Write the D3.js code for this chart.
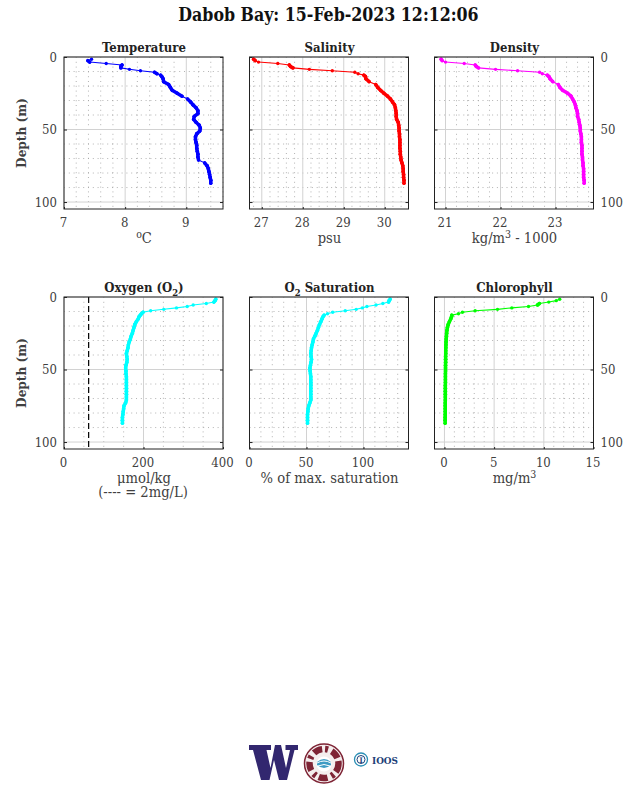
<!DOCTYPE html>
<html>
<head>
<meta charset="utf-8">
<script src="https://cdn.jsdelivr.net/npm/d3@7"></script>
<style>
html, body { margin: 0; padding: 0; background: white; }
svg { display: block; }
text { font-family: "DejaVu Serif Condensed", "DejaVu Serif", serif; font-stretch: condensed; }
</style>
</head>
<body>
<div id="chart"></div>
<script>
/* values, one entry per depth bin */
var depths = [1.5,2.5,3.5,4.5,5.5,6.5,7.5,8.5,9.5,10.5,11.5,12.5,13.5,15,17,19,21,23,25,27,29,31,33,35,37,39,41,43,45,47,49,51,53,55,57,59,61,63,65,67,69,71,73,75,77,79,81,83,85,87];
var temperature = [7.45,7.39,7.42,7.69,7.95,7.93,7.93,8.07,8.25,8.48,8.52,8.58,8.60,8.62,8.63,8.71,8.74,8.77,8.85,8.93,9.02,9.07,9.11,9.16,9.19,9.19,9.13,9.12,9.16,9.21,9.23,9.22,9.17,9.15,9.15,9.16,9.17,9.17,9.18,9.19,9.19,9.20,9.30,9.34,9.36,9.37,9.38,9.39,9.40,9.40];
var salinity = [26.80,26.84,26.92,27.39,27.67,27.70,27.76,28.16,28.72,29.27,29.35,29.49,29.53,29.54,29.62,29.78,29.83,29.90,29.98,30.07,30.14,30.19,30.24,30.26,30.27,30.28,30.28,30.29,30.33,30.34,30.35,30.35,30.36,30.36,30.37,30.37,30.37,30.37,30.38,30.38,30.39,30.40,30.42,30.44,30.45,30.45,30.46,30.46,30.47,30.47];
var density = [20.92,20.94,21.00,21.34,21.54,21.56,21.60,21.91,22.31,22.71,22.76,22.85,22.88,22.90,22.95,23.05,23.08,23.13,23.22,23.28,23.31,23.34,23.36,23.37,23.39,23.40,23.40,23.42,23.43,23.44,23.45,23.45,23.46,23.47,23.47,23.47,23.48,23.48,23.48,23.48,23.49,23.49,23.50,23.50,23.51,23.51,23.51,23.51,23.52,23.52];
var oxygen = [382,380,377,358,325,310,283,251,218,199,195,192,189,187,182,178,176,174,172,169,167,164,162,161,159,157,158,159,158,156,155,156,156,157,157,157,157,157,157,157,157,157,155,151,150,149,148,147,147,147];
var saturation = [123.4,122.5,122,117,111,103,99,93.6,84,73,68.4,65.5,64.6,63.7,62.6,61.4,60.5,59.6,58.5,57.3,56.1,55.6,55,54.4,54.1,53.8,54,54.4,54,53.5,53,53.2,53.5,53.8,53.8,53.8,53.8,53.8,53.8,53.8,53.8,53.8,52.9,52,51.5,51.2,50.9,50.9,50.9,50.9];
var chlorophyll = [11.6,11.25,10.5,9.56,9.36,8.46,6.78,5.34,3.09,1.81,1.41,0.74,0.72,0.64,0.5,0.38,0.3,0.25,0.22,0.2,0.18,0.16,0.15,0.14,0.13,0.13,0.12,0.12,0.12,0.11,0.11,0.11,0.1,0.1,0.1,0.1,0.09,0.09,0.09,0.09,0.09,0.09,0.08,0.08,0.08,0.08,0.08,0.07,0.07,0.07];

var depthTicks = [0, 50, 100];
var depthMinor = [10, 20, 30, 40, 60, 70, 80, 90];
var oxygenLimit = 62; // the 2mg/L dashed line

var width = 638, height = 788;
var inkGrey = "#404040";
var serif = '"DejaVu Serif Condensed", "DejaVu Serif", serif';

var svg = d3.select("#chart").append("svg")
    .attr("width", width)
    .attr("height", height);

svg.append("text")
    .attr("x", 328.5).attr("y", 21)
    .attr("text-anchor", "middle")
    .attr("font-size", 17.6)
    .attr("font-weight", "bold")
    .attr("fill", "#111")
    .text("Dabob Bay: 15-Feb-2023 12:12:06");

/* parts = [text, "sub"|"sup"|undefined, dy] so labels can carry O2 and m3 */
function addRich(sel, parts) {
    parts.forEach(function (p) {
        var t = sel.append("tspan").text(p[0]);
        if (p[1] == "sub") t.attr("dy", 4).attr("font-size", "72%");
        if (p[1] == "sup") t.attr("dy", -5).attr("font-size", "72%");
        if (p[2]) t.attr("dy", p[2]);
    });
}

function range(a, b, step) {
    return d3.range(a, b + step / 2, step);
}
function fix(v) { return +v.toFixed(1); }

function panel(o) {
    var g = svg.append("g");
    var x = d3.scaleLinear().domain(o.domain).range([o.left, o.left + 159]);
    var y = d3.scaleLinear().domain([0, 104.8]).range([o.top, o.top + 152]);

    // minor dotted grid
    g.selectAll(".vm").data(o.minor.filter(function (v) { return o.ticks.indexOf(v) < 0; }))
        .enter().append("line")
        .attr("x1", x).attr("x2", x)
        .attr("y1", y.range()[0]).attr("y2", y.range()[1])
        .attr("stroke", "#a0a0a0").attr("stroke-width", 0.8)
        .attr("stroke-dasharray", "1 3.8");
    g.selectAll(".hm").data(depthMinor)
        .enter().append("line")
        .attr("x1", x.range()[0]).attr("x2", x.range()[1])
        .attr("y1", y).attr("y2", y)
        .attr("stroke", "#a0a0a0").attr("stroke-width", 0.8)
        .attr("stroke-dasharray", "1 3.8");

    // major grid
    g.selectAll(".vg").data(o.ticks)
        .enter().append("line")
        .attr("x1", x).attr("x2", x)
        .attr("y1", y.range()[0]).attr("y2", y.range()[1])
        .attr("stroke", "#d2d2d2");
    g.selectAll(".hg").data(depthTicks)
        .enter().append("line")
        .attr("x1", x.range()[0]).attr("x2", x.range()[1])
        .attr("y1", y).attr("y2", y)
        .attr("stroke", "#d2d2d2");

    if (o.limit != null) {
        g.append("line")
            .attr("x1", x(o.limit)).attr("x2", x(o.limit))
            .attr("y1", y.range()[0]).attr("y2", y.range()[1])
            .attr("stroke", "black").attr("stroke-width", 1.2)
            .attr("stroke-dasharray", "6 3");
    }

    // the profile: bins close together merge into a fat line, far apart stay thin
    var pts = depths.map(function (d, i) { return [x(o.values[i]), y(d)]; });
    d3.pairs(pts).forEach(function (s) {
        var dx = s[1][0] - s[0][0], dy = s[1][1] - s[0][1];
        g.append("path")
            .attr("d", d3.line()(s))
            .attr("fill", "none")
            .attr("stroke", o.color)
            .attr("stroke-linecap", "round")
            .attr("stroke-width", Math.hypot(dx, dy) < 2 * dy ? 3.5 : 1.1);
    });
    g.selectAll(".dot").data(pts)
        .enter().append("circle")
        .attr("cx", function (d) { return d[0]; })
        .attr("cy", function (d) { return d[1]; })
        .attr("r", 1.7)
        .attr("fill", o.color);

    // axes, ticks point inwards like the original
    var ax = g.append("g")
        .attr("transform", "translate(0," + y.range()[1] + ")")
        .call(d3.axisBottom(x).tickValues(o.ticks).tickSizeInner(-2).tickSizeOuter(0).tickPadding(9)
            .tickFormat(d3.format("d")));
    var ayl = g.append("g")
        .attr("transform", "translate(" + x.range()[0] + ",0)")
        .call(d3.axisLeft(y).tickValues(depthTicks).tickSizeInner(-3).tickSizeOuter(0).tickPadding(7));
    var ayr = g.append("g")
        .attr("transform", "translate(" + x.range()[1] + ",0)")
        .call(d3.axisRight(y).tickValues(depthTicks).tickSizeInner(-3).tickSizeOuter(0).tickPadding(7));
    [ax, ayl, ayr].forEach(function (a) {
        a.select(".domain").remove();
        a.selectAll("line").attr("stroke", "#222");
        a.selectAll("text").attr("font-family", serif).attr("font-size", 13).attr("fill", inkGrey);
    });
    ax.selectAll("text").attr("dx", -1);
    if (!o.leftLabels) ayl.selectAll("text").remove();
    if (!o.rightLabels) ayr.selectAll("text").remove();

    g.append("rect")
        .attr("x", x.range()[0]).attr("y", y.range()[0])
        .attr("width", 159).attr("height", 152)
        .attr("fill", "none").attr("stroke", "#222").attr("stroke-width", 1);

    // texts
    var title = g.append("text")
        .attr("x", o.left + 80).attr("y", o.top - 5)
        .attr("text-anchor", "middle")
        .attr("font-size", 13)
        .attr("font-weight", "bold")
        .attr("fill", "#222");
    addRich(title, o.title);

    var xlab = g.append("text")
        .attr("x", o.left + 80).attr("y", o.top + 186)
        .attr("text-anchor", "middle")
        .attr("font-size", 14.6)
        .attr("fill", inkGrey);
    addRich(xlab, o.xlabel);

    if (o.xlabel2) {
        g.append("text")
            .attr("x", o.left + 79).attr("y", o.top + 200)
            .attr("text-anchor", "middle")
            .attr("font-size", 14.6)
            .attr("fill", inkGrey)
            .text(o.xlabel2);
    }

    if (o.leftLabels) {
        g.append("text")
            .attr("transform", "translate(26," + (o.top + 76) + ") rotate(-90)")
            .attr("text-anchor", "middle")
            .attr("font-size", 13.5)
            .attr("font-weight", "bold")
            .attr("fill", inkGrey)
            .text("Depth (m)");
    }
}

panel({ left: 64, top: 57, domain: [7, 9.6], ticks: [7, 8, 9], minor: range(7, 9.6, 0.2).map(fix),
    values: temperature, color: "#0000ff", leftLabels: true,
    title: [["Temperature"]], xlabel: [["o", "sup"], ["C", null, 5]] });
panel({ left: 249.5, top: 57, domain: [26.7, 30.58], ticks: [27, 28, 29, 30], minor: range(26.8, 30.4, 0.2).map(fix),
    values: salinity, color: "#ff0000",
    title: [["Salinity"]], xlabel: [["psu"]] });
panel({ left: 434.5, top: 57, domain: [20.8, 23.69], ticks: [21, 22, 23], minor: range(20.8, 23.6, 0.2).map(fix),
    values: density, color: "#ff00ff", rightLabels: true,
    title: [["Density"]], xlabel: [["kg/m"], ["3", "sup"], [" - 1000", null, 5]] });
panel({ left: 64, top: 297, domain: [0, 400], ticks: [0, 200, 400], minor: range(0, 400, 50),
    values: oxygen, color: "#00ffff", leftLabels: true, limit: oxygenLimit,
    title: [["Oxygen (O"], ["2", "sub"], [")", null, -4]], xlabel: [["\u03bcmol/kg"]], xlabel2: "(---- = 2mg/L)" });
panel({ left: 249.5, top: 297, domain: [0, 139.5], ticks: [0, 50, 100], minor: range(0, 130, 10),
    values: saturation, color: "#00ffff",
    title: [["O"], ["2", "sub"], [" Saturation", null, -4]], xlabel: [["% of max. saturation"]] });
panel({ left: 434.5, top: 297, domain: [-1, 15], ticks: [0, 5, 10, 15], minor: range(0, 15, 1),
    values: chlorophyll, color: "#00ff00", rightLabels: true,
    title: [["Chlorophyll"]], xlabel: [["mg/m"], ["3", "sup"]] });

/* logos along the bottom, these are pictures in the original */
var logos = svg.append("g");
logos.append("path")
    .attr("d", "M249 745H271V750H266.5L270.5 768L275 745H281L286 768L290 750H285.5V745H298V750H294.5L287 780H279L274 760L269.5 780H261L253 750H249Z")
    .attr("fill", "#32276f");
logos.append("circle").attr("cx", 324).attr("cy", 763.5).attr("r", 19.5)
    .attr("fill", "#f4eeee").attr("stroke", "#7e2435").attr("stroke-width", 1.5);
logos.append("circle").attr("cx", 324).attr("cy", 763.5).attr("r", 14.5)
    .attr("fill", "none").attr("stroke", "#7e2435").attr("stroke-width", 6.5)
    .attr("stroke-dasharray", "9 3 3 4");
logos.append("circle").attr("cx", 324).attr("cy", 764).attr("r", 7.5).attr("fill", "#fff");
logos.append("path").attr("d", "M317 762q7 -6 14 0v3q-7 6 -14 0z").attr("fill", "#3f9cc4");
logos.append("path").attr("d", "M317 763q7 -4 14 0M318 766q6 -3 12 0")
    .attr("fill", "none").attr("stroke", "white").attr("stroke-width", 1);
logos.append("circle").attr("cx", 361).attr("cy", 759.5).attr("r", 6.5)
    .attr("fill", "none").attr("stroke", "#2a8fb5").attr("stroke-width", 1.3);
logos.append("circle").attr("cx", 361).attr("cy", 759.5).attr("r", 4)
    .attr("fill", "none").attr("stroke", "#1d3f78").attr("stroke-width", 1);
logos.append("text")
    .attr("x", 361).attr("y", 762.5)
    .attr("text-anchor", "middle")
    .attr("font-size", 7.5)
    .attr("font-weight", "bold")
    .attr("fill", "#1d3f78")
    .text("I");
logos.append("text")
    .attr("x", 372).attr("y", 763.5)
    .attr("font-family", '"DejaVu Serif", serif')
    .style("font-stretch", "normal")
    .attr("font-size", 9.5)
    .attr("font-weight", "bold")
    .attr("fill", "#1d3f78")
    .attr("textLength", 26)
    .attr("lengthAdjust", "spacingAndGlyphs")
    .text("IOOS");
</script>
</body>
</html>
